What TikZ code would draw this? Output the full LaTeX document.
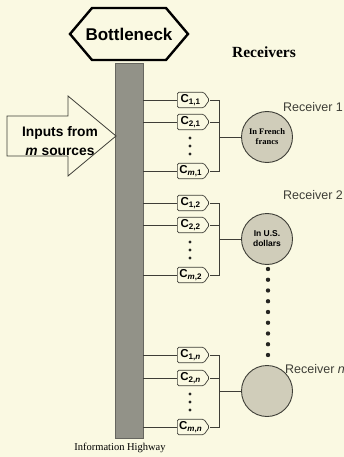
\documentclass[tikz,border=0pt]{standalone}
\usepackage{fontspec}
\setmainfont{Liberation Sans}
\newfontfamily\timesfont{Liberation Serif}
\usepackage{tikz}
\usetikzlibrary{positioning,shapes.symbols}

\definecolor{paper}{RGB}{250,249,226}
\definecolor{roadgray}{RGB}{146,146,136}
\definecolor{wirec}{RGB}{62,62,55}
\definecolor{rcvfill}{RGB}{208,205,186}

\newcommand{\ccode}[2]{C\textsubscript{#1,#2}}

\begin{document}
\begin{tikzpicture}[x=1pt, y=-1pt,
    wire/.style={draw=wirec, line width=0.7pt},
    cbox/.style={signal, signal to=east, signal pointer angle=110, draw=wirec, line width=0.7pt,
      fill=paper, rounded corners=1.5pt, minimum height=15.5pt, minimum width=32pt, inner sep=1pt,
      anchor=west, font=\fontsize{11.5}{11.5}\selectfont\bfseries},
    rcv/.style={circle, draw=wirec, line width=0.9pt, fill=rcvfill, minimum size=51pt, inner sep=0pt, align=center},
    rlabel/.style={font=\fontsize{12.5}{14}\selectfont, text=wirec}]
  \fill[paper] (0,0) rectangle (344,457);
  \useasboundingbox (0,0) rectangle (344,457);

  % bottleneck sign and highway
  \node[inner sep=0pt, font=\fontsize{17}{17}\selectfont\bfseries] (bneck) at (129,34) {Bottleneck};
  \draw[line width=2.4pt, line join=miter] ([shift={(-59,0)}]bneck.center) -- ([shift={(-37,-26)}]bneck.center)
    -- ([shift={(37,-26)}]bneck.center) -- ([shift={(59,0)}]bneck.center)
    -- ([shift={(37,26)}]bneck.center) -- ([shift={(-37,26)}]bneck.center) -- cycle;
  \node[draw=roadgray!70!black, fill=roadgray, minimum width=28pt, minimum height=375pt, inner sep=0pt] (hwy) at (129,250.5) {};
  \node[font=\fontsize{10.5}{12}\selectfont\timesfont] (hwylabel) at (120,448) {Information Highway};
  \node[font=\fontsize{15.5}{16}\selectfont\timesfont\bfseries] (rtitle) at (264,52) {Receivers};

  % inputs arrow
  \draw[wire, line width=0.8pt, line join=miter] (7,116) -- (68,116) -- (68,96) -- (116,136) -- (68,176) -- (68,156) -- (7,156) -- cycle;
  \node[align=center, font=\fontsize{13.8}{19}\selectfont\bfseries] (inputs) at (60,141) {Inputs from\\\textit{m} sources};

  % receiver 1
  \node[cbox] (c11) at (177,100) {\ccode{1}{1}};
  \node[cbox] (c21) at (177,122) {\ccode{2}{1}};
  \node[cbox] (cm1) at (177,171) {\ccode{\textit{m}}{1}};
  \node[rcv, font=\fontsize{8.5}{10}\selectfont\timesfont\bfseries] (rcv1) at (267,137) {In French\\francs};
  \node[rlabel] (lab1) at (313,107) {Receiver 1};
  \coordinate (j1) at (219,137);

  % receiver 2
  \node[cbox] (c12) at (177,203) {\ccode{1}{2}};
  \node[cbox] (c22) at (177,225) {\ccode{2}{2}};
  \node[cbox] (cm2) at (177,275) {\ccode{\textit{m}}{2}};
  \node[rcv, font=\fontsize{8.5}{10}\selectfont\bfseries] (rcv2) at (267,239) {In U.S.\\dollars};
  \node[rlabel] (lab2) at (313,195) {Receiver 2};
  \coordinate (j2) at (219,239);

  % receiver n
  \node[cbox] (c1n) at (177,355) {\ccode{1}{\textit{n}}};
  \node[cbox] (c2n) at (177,378) {\ccode{2}{\textit{n}}};
  \node[cbox] (cmn) at (177,427) {\ccode{\textit{m}}{\textit{n}}};
  \node[rcv] (rcvn) at (267,391) {};
  \node[rlabel] (labn) at (315,369) {Receiver \textit{n}};
  \coordinate (jn) at (219,391);

  \foreach \b in {c11,c21,cm1,c12,c22,cm2,c1n,c2n,cmn}
    \draw[wire] (\b.west -| hwy.east) -- (\b.west);
  \foreach \b/\j in {c11/j1,c21/j1,cm1/j1,c12/j2,c22/j2,cm2/j2,c1n/jn,c2n/jn,cmn/jn}
    \draw[wire] (\b.east) -| (\j);
  \draw[wire] (j1) -- (rcv1);
  \draw[wire] (j2) -- (rcv2);
  \draw[wire] (jn) -- (rcvn);

  % dots
  \foreach \y in {138,146,154,242,250,258,394,402,410}
    \fill[wirec!60!black] (190,\y) circle (1.6pt);
  \foreach \k in {0,...,8}
    \fill[wirec!60!black] (268,269+10.75*\k) circle (2.2pt);
\end{tikzpicture}
\end{document}
